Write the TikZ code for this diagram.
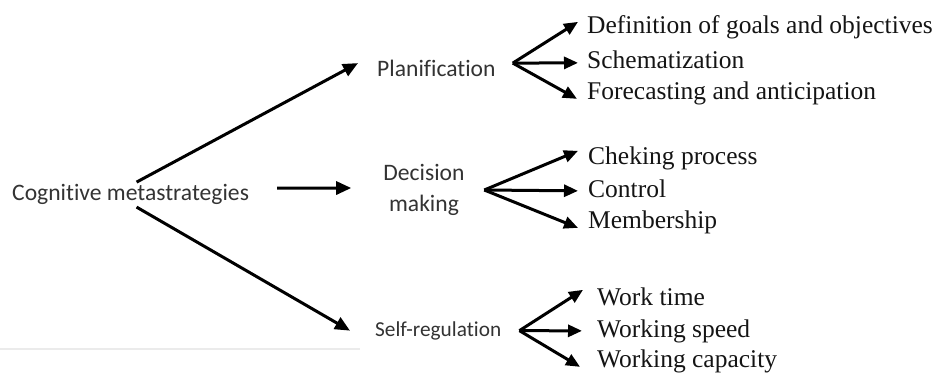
\documentclass[tikz,border=0pt]{standalone}
\usepackage{fontspec}
\setmainfont{Liberation Serif}
\newfontfamily\carl[Ligatures=CommonOff]{Carlito}
\usetikzlibrary{arrows.meta}
\begin{document}
\begin{tikzpicture}[x=1pt,y=-1pt,
  serif/.style={font=\fontsize{25.5}{30}\selectfont, text=black!92, inner sep=0pt, anchor=base west, text height=17.9pt, text depth=5.6pt},
  sans/.style={font=\carl\fontsize{23.6}{31}\selectfont, text=black!80, inner sep=0pt, text height=17.7pt, text depth=5.9pt},
  arr/.style={line width=3pt, -{Triangle[length=15pt,width=13pt]}},
  farr/.style={line width=3pt, -{Triangle[length=14pt,width=12pt]}}]
\useasboundingbox (0,0) rectangle (939,372);

% faint rule under the left part
\draw[black!8, line width=1.5pt] (0,349) -- (360,349);

% left and middle nodes
\node[sans, anchor=base west] (cog) at (12,200) {Cognitive metastrategies};
\node[sans, anchor=base west] (plan) at (377,76) {Planification};
\node[font=\carl\fontsize{23.6}{31}\selectfont, text=black!80, inner sep=0pt, align=center] (dec) at (424,190) {Decision\\making};
\node[sans, font=\carl\fontsize{21.3}{25}\selectfont, text height=16pt, text depth=5.3pt, anchor=base west] (self) at (375,336) {Self-regulation};

% right nodes
\node[serif] (def)  at (587,33)  {Definition of goals and objectives};
\node[serif] (sch)  at (587,68)  {Schematization};
\node[serif] (fore) at (587,99)  {Forecasting and anticipation};
\node[serif] (chk)  at (588,164) {Cheking process};
\node[serif] (ctl)  at (588,197) {Control};
\node[serif] (mem)  at (588,228) {Membership};
\node[serif] (wt)   at (597,305) {Work time};
\node[serif] (ws)   at (597,337) {Working speed};
\node[serif] (wc)   at (597,367) {Working capacity};

% main arrows
\draw[arr] ([xshift=6pt]cog.north) -- ([xshift=-19pt,yshift=7pt]plan.west);
\draw[arr] ([xshift=28pt,yshift=6pt]cog.east) -- ([xshift=-32pt,yshift=2pt]dec.west);
\draw[arr] ([xshift=6pt,yshift=-1pt]cog.south) -- ([xshift=-25pt]self.west);

% fan origins
\coordinate (fanP) at ([xshift=17pt,yshift=7pt]plan.east);
\coordinate (fanD) at ([xshift=19.5pt]dec.east);
\coordinate (fanS) at ([xshift=18pt]self.east);

% fans
\draw[farr] (fanP) -- ([xshift=-9pt,yshift=5pt]def.west);
\draw[farr] (fanP) -- ([xshift=-9pt,yshift=-1pt]sch.west);
\draw[farr] (fanP) -- ([xshift=-10pt,yshift=-6pt]fore.west);

\draw[farr] (fanD) -- ([xshift=-10pt,yshift=7pt]chk.west);
\draw[farr] (fanD) -- ([xshift=-10pt]ctl.west);
\draw[farr] (fanD) -- ([xshift=-10pt,yshift=-6pt]mem.west);

\draw[farr] (fanS) -- ([xshift=-14pt,yshift=9pt]wt.west);
\draw[farr] (fanS) -- ([xshift=-15pt]ws.west);
\draw[farr] (fanS) -- ([xshift=-17pt,yshift=-6pt]wc.west);
\end{tikzpicture}
\end{document}
